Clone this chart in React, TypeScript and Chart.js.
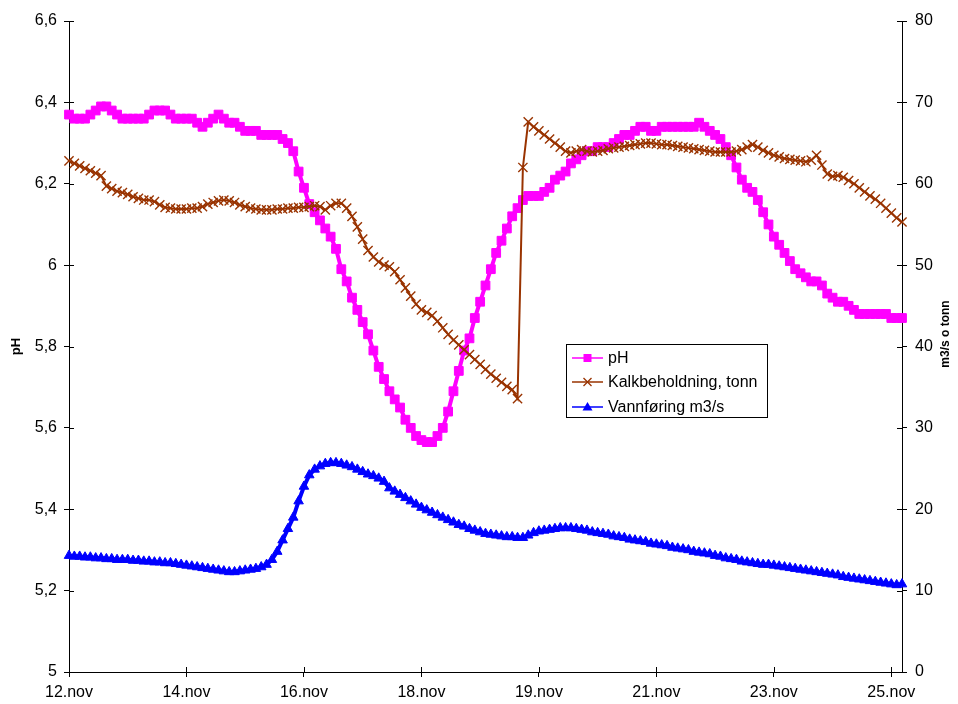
import { useEffect, useRef } from 'react';
import { Chart, registerables } from 'chart.js';

Chart.register(...registerables);

// Measurements every 2 hours, 12.nov 00:00 – 25.nov
const STEP_HOURS = 2;

const PH = [
  6.37, 6.36, 6.36, 6.36, 6.37, 6.38, 6.39, 6.39, 6.38, 6.37,
  6.36, 6.36, 6.36, 6.36, 6.36, 6.37, 6.38, 6.38, 6.38, 6.37,
  6.36, 6.36, 6.36, 6.36, 6.35, 6.34, 6.35, 6.36, 6.37, 6.36,
  6.35, 6.35, 6.34, 6.33, 6.33, 6.33, 6.32, 6.32, 6.32, 6.32,
  6.31, 6.30, 6.28, 6.23, 6.19, 6.15, 6.13, 6.11, 6.09, 6.07,
  6.04, 5.99, 5.96, 5.92, 5.89, 5.86, 5.83, 5.79, 5.75, 5.72,
  5.69, 5.67, 5.65, 5.62, 5.60, 5.58, 5.57, 5.565, 5.565, 5.58,
  5.60, 5.64, 5.69, 5.74, 5.79, 5.82, 5.87, 5.91, 5.95, 5.99,
  6.03, 6.06, 6.09, 6.12, 6.14, 6.16, 6.17, 6.17, 6.17, 6.18,
  6.19, 6.21, 6.22, 6.23, 6.25, 6.26, 6.27, 6.28, 6.28, 6.29,
  6.29, 6.29, 6.30, 6.31, 6.32, 6.32, 6.33, 6.34, 6.34, 6.33,
  6.33, 6.34, 6.34, 6.34, 6.34, 6.34, 6.34, 6.34, 6.35, 6.34,
  6.33, 6.32, 6.31, 6.29, 6.27, 6.24, 6.21, 6.19, 6.18, 6.16,
  6.13, 6.10, 6.07, 6.05, 6.03, 6.01, 5.99, 5.98, 5.97, 5.96,
  5.96, 5.95, 5.93, 5.92, 5.91, 5.91, 5.90, 5.89, 5.88, 5.88,
  5.88, 5.88, 5.88, 5.88, 5.87, 5.87, 5.87,
];

const KALK = [
  62.8, 62.5, 62.2, 61.9, 61.6, 61.3, 61.0, 59.7, 59.4, 59.1,
  58.9, 58.7, 58.4, 58.2, 58.0, 58.0, 57.8, 57.4, 57.1, 57.0,
  56.9, 56.9, 56.9, 57.0, 57.0, 57.2, 57.5, 57.7, 57.9, 58.0,
  57.9, 57.7, 57.4, 57.2, 57.0, 56.9, 56.8, 56.8, 56.8, 56.9,
  56.9, 57.0, 57.0, 57.1, 57.1, 57.2, 57.3, 57.2, 56.8, 57.3,
  57.6, 57.6, 57.0, 56.0, 54.7, 53.2, 51.8, 51.0, 50.4, 50.0,
  49.8, 49.2, 48.2, 47.2, 46.2, 45.2, 44.5, 44.2, 43.8, 43.1,
  42.3, 41.5, 40.8, 40.2, 39.6, 39.0, 38.4, 37.8, 37.2, 36.6,
  36.1, 35.6, 35.1, 34.7, 33.6, 62.0, 67.6, 67.0, 66.5, 66.0,
  65.5, 65.0, 64.5, 64.0, 63.8, 64.0, 64.2, 64.0, 63.9, 64.0,
  64.1, 64.3, 64.4, 64.5, 64.6, 64.7, 64.8, 64.9, 65.0, 65.0,
  64.9, 64.8, 64.8, 64.7, 64.6, 64.5, 64.4, 64.3, 64.2, 64.1,
  64.0, 63.9, 63.9, 63.9, 63.9, 64.0, 64.2, 64.5, 64.8, 64.5,
  64.1, 63.8, 63.5, 63.3, 63.1, 63.0, 62.9, 62.8, 62.7, 62.9,
  63.5, 62.3, 61.2, 60.9, 61.0, 60.8, 60.4, 60.0, 59.5, 59.0,
  58.5, 58.1, 57.6, 57.0, 56.4, 55.8, 55.3,
];

const VANN = [
  14.3, 14.2, 14.2, 14.1, 14.1, 14.0, 14.0, 13.9, 13.9, 13.8,
  13.8, 13.8, 13.7, 13.7, 13.6, 13.6, 13.5, 13.5, 13.4, 13.4,
  13.3, 13.2, 13.1, 13.0, 12.9, 12.8, 12.7, 12.6, 12.5, 12.4,
  12.3, 12.3, 12.4, 12.5, 12.6, 12.7, 12.9, 13.2, 13.8, 14.8,
  16.2, 17.6, 19.0, 21.0, 22.8, 24.2, 24.9, 25.3, 25.6, 25.7,
  25.7, 25.6, 25.4, 25.2, 24.9, 24.6, 24.3, 24.1, 23.8, 23.4,
  22.6, 22.2, 21.8, 21.4, 21.0, 20.6, 20.2, 19.9, 19.6, 19.3,
  19.0, 18.7, 18.4, 18.1, 17.9, 17.6, 17.4, 17.2, 17.0, 16.9,
  16.8, 16.7, 16.6, 16.6, 16.5, 16.5, 16.8, 17.1, 17.3, 17.4,
  17.5, 17.6, 17.7, 17.7, 17.7, 17.6, 17.5, 17.4, 17.2, 17.1,
  17.0, 16.9, 16.7, 16.6, 16.5, 16.3, 16.2, 16.1, 16.0, 15.8,
  15.7, 15.6, 15.5, 15.3, 15.2, 15.1, 15.0, 14.8, 14.7, 14.6,
  14.5, 14.3, 14.2, 14.0, 13.9, 13.8, 13.6, 13.5, 13.4, 13.3,
  13.2, 13.2, 13.1, 13.0, 12.9, 12.8, 12.7, 12.6, 12.5, 12.4,
  12.3, 12.2, 12.1, 12.0, 11.9, 11.7, 11.6, 11.5, 11.4, 11.3,
  11.2, 11.1, 11.0, 10.9, 10.8, 10.7, 10.8,
];

// Date labels on the time axis (hours from start)
const TICK_HOURS = [0, 44, 88, 132, 176, 220, 264, 308];
const TICK_LABELS = ['12.nov', '14.nov', '16.nov', '18.nov', '19.nov', '21.nov', '23.nov', '25.nov'];
const PH_TICKS = [5, 5.2, 5.4, 5.6, 5.8, 6, 6.2, 6.4, 6.6];
const RIGHT_TICKS = [0, 10, 20, 30, 40, 50, 60, 70, 80];

const SERIES_NAMES = ['pH', 'Kalkbeholdning, tonn', 'Vannføring m3/s'];
const COLORS = { ph: '#FF00FF', kalk: '#993300', vann: '#0000FF' };

const FONT = 'Arial, "Liberation Sans", sans-serif';

const toPoints = (values: number[]) => values.map((v, i) => ({ x: i * STEP_HOURS, y: v }));
const commaNum = (v: number) => String(Number(v.toFixed(1))).replace('.', ',');

// Tick marks crossing the axis lines (inner halves) and the rotated axis titles
const axisExtras = {
  id: 'axisExtras',
  afterDraw(chart: any) {
    const { ctx, chartArea, scales } = chart;
    const len = 5;
    ctx.save();
    ctx.strokeStyle = '#000';
    ctx.lineWidth = 1;
    ctx.beginPath();
    scales.x.ticks.forEach((t: any) => {
      const px = Math.round(scales.x.getPixelForValue(t.value)) + 0.5;
      ctx.moveTo(px, chartArea.bottom);
      ctx.lineTo(px, chartArea.bottom - len);
    });
    scales.y.ticks.forEach((t: any) => {
      const py = Math.round(scales.y.getPixelForValue(t.value)) + 0.5;
      ctx.moveTo(chartArea.left, py);
      ctx.lineTo(chartArea.left + len, py);
    });
    scales.y1.ticks.forEach((t: any) => {
      const py = Math.round(scales.y1.getPixelForValue(t.value)) + 0.5;
      ctx.moveTo(chartArea.right, py);
      ctx.lineTo(chartArea.right - len, py);
    });
    ctx.stroke();

    ctx.fillStyle = '#000';
    ctx.textAlign = 'center';
    ctx.textBaseline = 'middle';
    ctx.save();
    ctx.font = `bold 13px ${FONT}`;
    ctx.translate(16, (chartArea.top + chartArea.bottom) / 2);
    ctx.rotate(-Math.PI / 2);
    ctx.fillText('pH', 0, 0);
    ctx.restore();
    ctx.save();
    ctx.font = `bold 12px ${FONT}`;
    ctx.translate(946, 334);
    ctx.rotate(-Math.PI / 2);
    ctx.fillText('m3/s o tonn', 0, 0);
    ctx.restore();
    ctx.restore();
  },
};

// Legend marker glyphs, same shapes as the series markers
function legendMarker(ctx: CanvasRenderingContext2D, style: string, x: number, y: number, color: string) {
  ctx.save();
  ctx.fillStyle = color;
  ctx.strokeStyle = color;
  ctx.lineWidth = 1.3;
  ctx.beginPath();
  if (style === 'rect') {
    ctx.rect(x - 4, y - 4, 8, 8);
    ctx.fill();
  } else if (style === 'crossRot') {
    ctx.moveTo(x - 4, y - 4);
    ctx.lineTo(x + 4, y + 4);
    ctx.moveTo(x + 4, y - 4);
    ctx.lineTo(x - 4, y + 4);
    ctx.stroke();
  } else {
    ctx.moveTo(x, y - 5);
    ctx.lineTo(x + 5, y + 3.5);
    ctx.lineTo(x - 5, y + 3.5);
    ctx.closePath();
    ctx.fill();
  }
  ctx.restore();
}

// Boxed legend inside the plot
const boxLegend = {
  id: 'boxLegend',
  afterDraw(chart: any) {
    const { ctx } = chart;
    const bx = 566, by = 344, bw = 201, bh = 73;
    ctx.save();
    ctx.fillStyle = '#fff';
    ctx.fillRect(bx, by, bw, bh);
    ctx.strokeStyle = '#000';
    ctx.lineWidth = 1;
    ctx.strokeRect(bx + 0.5, by + 0.5, bw, bh);
    const rows = [358, 382, 407];
    chart.data.datasets.forEach((ds: any, i: number) => {
      const y = rows[i];
      ctx.strokeStyle = ds.borderColor;
      ctx.lineWidth = 1.5;
      ctx.beginPath();
      ctx.moveTo(572, y);
      ctx.lineTo(603, y);
      ctx.stroke();
      legendMarker(ctx, ds.pointStyle, 587.5, y, ds.pointBackgroundColor);
      ctx.fillStyle = '#000';
      ctx.font = `16px ${FONT}`;
      ctx.textAlign = 'left';
      ctx.textBaseline = 'middle';
      ctx.fillText(SERIES_NAMES[i], 608, y + 1);
    });
    ctx.restore();
  },
};

export default function App() {
  const canvasRef = useRef<HTMLCanvasElement | null>(null);

  useEffect(() => {
    const canvas = canvasRef.current;
    if (!canvas) return;
    const tickFont = { family: FONT, size: 16 };
    const chart = new Chart(canvas, {
      type: 'line',
      data: {
        datasets: [
          {
            label: SERIES_NAMES[0],
            data: toPoints(PH),
            yAxisID: 'y',
            borderColor: COLORS.ph,
            backgroundColor: COLORS.ph,
            borderWidth: 4,
            pointStyle: 'rect',
            pointRadius: 6.2,
            pointBorderWidth: 1,
            pointBackgroundColor: COLORS.ph,
            pointBorderColor: COLORS.ph,
            order: 3,
            clip: false,
          },
          {
            label: SERIES_NAMES[1],
            data: toPoints(KALK),
            yAxisID: 'y1',
            borderColor: COLORS.kalk,
            backgroundColor: COLORS.kalk,
            borderWidth: 2,
            pointStyle: 'crossRot',
            pointRadius: 6.5,
            pointBorderWidth: 1.4,
            pointBackgroundColor: COLORS.kalk,
            pointBorderColor: COLORS.kalk,
            order: 2,
            clip: false,
          },
          {
            label: SERIES_NAMES[2],
            data: toPoints(VANN),
            yAxisID: 'y1',
            borderColor: COLORS.vann,
            backgroundColor: COLORS.vann,
            borderWidth: 4,
            pointStyle: 'triangle',
            pointRadius: 5.5,
            pointBorderWidth: 1,
            pointBackgroundColor: COLORS.vann,
            pointBorderColor: COLORS.vann,
            order: 1,
            clip: false,
          },
        ] as any,
      },
      options: {
        responsive: false,
        animation: false,
        events: [],
        layout: { padding: { top: 21, left: 0, right: 0, bottom: 0 } },
        elements: { line: { tension: 0 } },
        plugins: { legend: { display: false }, tooltip: { enabled: false } },
        scales: {
          x: {
            type: 'linear',
            min: 0,
            max: 312,
            afterBuildTicks: (s: any) => { s.ticks = TICK_HOURS.map((v) => ({ value: v })); },
            afterFit: (s: any) => { s.height = 32; },
            grid: { drawOnChartArea: false, drawTicks: true, tickLength: 5, color: '#000', lineWidth: 1 },
            border: { color: '#000', width: 1 },
            ticks: {
              autoSkip: false,
              maxRotation: 0,
              padding: 6,
              color: '#000',
              font: tickFont,
              callback: (_v: any, i: number) => TICK_LABELS[i],
            },
          },
          y: {
            type: 'linear',
            position: 'left',
            min: 5,
            max: 6.6,
            afterBuildTicks: (s: any) => { s.ticks = PH_TICKS.map((v) => ({ value: v })); },
            afterFit: (s: any) => { s.width = 69; },
            grid: { drawOnChartArea: false, drawTicks: true, tickLength: 5, color: '#000', lineWidth: 1 },
            border: { color: '#000', width: 1 },
            ticks: {
              padding: 7,
              color: '#000',
              font: tickFont,
              callback: (v: any) => commaNum(Number(v)),
            },
          },
          y1: {
            type: 'linear',
            position: 'right',
            min: 0,
            max: 80,
            afterBuildTicks: (s: any) => { s.ticks = RIGHT_TICKS.map((v) => ({ value: v })); },
            afterFit: (s: any) => { s.width = 56; },
            grid: { drawOnChartArea: false, drawTicks: true, tickLength: 5, color: '#000', lineWidth: 1 },
            border: { color: '#000', width: 1 },
            ticks: {
              padding: 8,
              color: '#000',
              font: tickFont,
              callback: (v: any) => String(v),
            },
          },
        },
      } as any,
      plugins: [axisExtras, boxLegend],
    });
    return () => chart.destroy();
  }, []);

  return (
    <div style={{ position: 'absolute', left: 0, top: 0, width: 958, height: 704, background: '#fff' }}>
      <canvas ref={canvasRef} width={958} height={704} />
    </div>
  );
}
